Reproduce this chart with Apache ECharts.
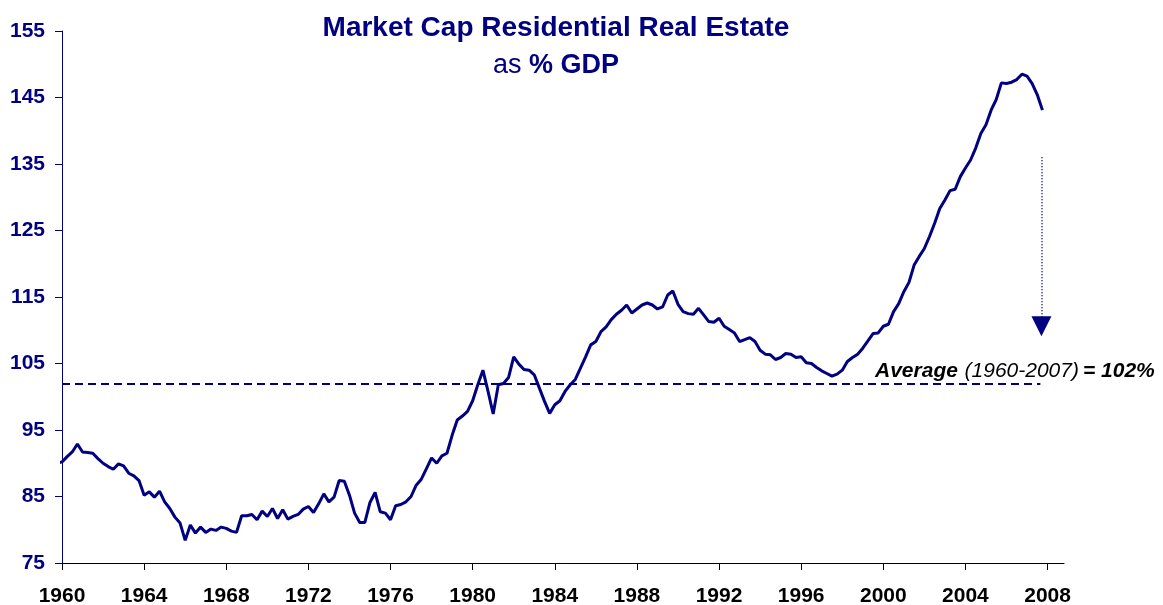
<!DOCTYPE html>
<html>
<head>
<meta charset="utf-8">
<script src="https://cdn.jsdelivr.net/npm/echarts@6/dist/echarts.min.js"></script>
<style>
  html, body { margin: 0; padding: 0; background: #fff; }
  #chart { width: 1163px; height: 605px; }
</style>
</head>
<body>
<div id="chart"></div>
<script>
// quarterly series, first point is 1959 Q4
const firstQuarter = 1959.75;
const capToGdp = [
  90.0,
  90.2, 91.0, 91.7, 92.9,   91.7, 91.6, 91.5, 90.7,   90.0, 89.5, 89.1, 89.9,   89.6, 88.5, 88.1, 87.4,
  85.2, 85.7, 84.9, 85.8,   84.2, 83.2, 81.9, 81.0,   78.4, 80.7, 79.5, 80.4,   79.6, 80.1, 79.9, 80.4,
  80.2, 79.8, 79.6, 82.1,   82.1, 82.3, 81.5, 82.8,   82.0, 83.2, 81.7, 83.0,   81.6, 82.0, 82.3, 83.1,
  83.5, 82.6, 83.9, 85.4,   84.2, 84.9, 87.4, 87.3,   85.2, 82.5, 81.1, 81.1,   84.1, 85.6, 82.7, 82.5,
  81.5, 83.6, 83.8, 84.2,   85.0, 86.7, 87.6, 89.2,   90.8, 90.0, 91.1, 91.5,   94.2, 96.5, 97.1, 97.8,
  99.4, 101.8, 104.0, 100.8, 97.4, 101.8, 102.0, 102.9, 106.0, 104.9, 104.1, 104.0, 103.3, 101.3, 99.3, 97.5,
  98.8, 99.4, 100.8, 101.8, 102.6, 104.3, 106.0, 107.8, 108.3, 109.8, 110.5, 111.6, 112.4, 113.0, 113.8, 112.6,
  113.2, 113.8, 114.1, 113.8, 113.2, 113.5, 115.3, 115.9, 113.9, 112.8, 112.5, 112.4, 113.3, 112.3, 111.3, 111.2,
  111.8, 110.6, 110.1, 109.6, 108.3, 108.6, 108.9, 108.3, 107.0, 106.4, 106.3, 105.6, 105.9, 106.5, 106.4, 105.9,
  106.0, 105.1, 105.0, 104.4, 103.9, 103.5, 103.1, 103.4, 104.0, 105.3, 105.9, 106.4, 107.3, 108.4, 109.5, 109.6,
  110.6, 110.9, 112.8, 114.0, 115.8, 117.2, 119.8, 121.1, 122.3, 124.1, 126.1, 128.3, 129.6, 131.0, 131.2, 133.1,
  134.4, 135.6, 137.4, 139.6, 140.9, 143.1, 144.7, 147.2, 147.1, 147.3, 147.7, 148.5, 148.2, 147.1, 145.4, 143.1
];
const yearTicks = [1960, 1964, 1968, 1972, 1976, 1980, 1984, 1988, 1992, 1996, 2000, 2004, 2008];
const averageValue = 102;
const averageSpan = [1960, 2007.65];
const arrowX = 2007.7;
const arrowFromTo = [136, 110.6];

const navy = '#000080';
const font = '"Liberation Sans", Arial, sans-serif';

const lineData = capToGdp.map((v, i) => [firstQuarter + i / 4, v]);

const chart = echarts.init(document.getElementById('chart'), null, { renderer: 'canvas' });

chart.setOption({
  animation: false,
  backgroundColor: '#fff',
  title: {
    text: '{a|Market Cap Residential Real Estate}\n{b|as }{c|% GDP}',
    left: 556,
    top: 9,
    padding: 0,
    textAlign: 'center',
    textStyle: {
      rich: {
        a: { fontFamily: font, fontSize: 28, fontWeight: 'bold', color: navy, lineHeight: 38 },
        b: { fontFamily: font, fontSize: 27, fontWeight: 'normal', color: navy, lineHeight: 38 },
        c: { fontFamily: font, fontSize: 27, fontWeight: 'bold', color: navy, lineHeight: 38 }
      }
    }
  },
  grid: { left: 62, right: 99, top: 31, bottom: 42, outerBoundsMode: 'none' },
  xAxis: {
    type: 'value',
    min: 1960,
    max: 2008.8,
    splitLine: { show: false },
    axisLine: { lineStyle: { color: '#000', width: 1 } },
    axisTick: { length: 7, customValues: yearTicks, lineStyle: { color: '#000' } },
    axisLabel: {
      customValues: yearTicks,
      formatter: (v) => String(v),
      margin: 23,
      color: '#000',
      fontFamily: font,
      fontSize: 21,
      fontWeight: 'bold'
    }
  },
  yAxis: {
    type: 'value',
    min: 75,
    max: 155,
    interval: 10,
    splitLine: { show: false },
    axisLine: { show: true, lineStyle: { color: navy, width: 1 } },
    axisTick: { show: true, length: 7, lineStyle: { color: navy } },
    axisLabel: {
      margin: 17,
      color: navy,
      fontFamily: font,
      fontSize: 21,
      fontWeight: 'bold'
    }
  },
  series: [
    {
      type: 'line',
      data: lineData,
      showSymbol: false,
      clip: false,
      lineStyle: { color: navy, width: 3 },
      markLine: {
        silent: true,
        animation: false,
        label: { show: false },
        data: [
          [
            { coord: [averageSpan[0], averageValue], symbol: 'none', lineStyle: { color: navy, width: 2, type: [8, 5] } },
            { coord: [averageSpan[1], averageValue], symbol: 'none' }
          ],
          [
            { coord: [arrowX, arrowFromTo[0]], symbol: 'none', lineStyle: { color: navy, width: 1.5, type: [1, 2] } },
            { coord: [arrowX, arrowFromTo[1]], symbol: 'triangle', symbolSize: [20, 20] }
          ]
        ]
      }
    }
  ],
  graphic: [
    {
      type: 'text',
      x: 875,
      y: 371,
      style: {
        text: '{b|Average}  {n|(1960-2007)}{e|= 102%}',
        verticalAlign: 'middle',
        rich: {
          b: { fontFamily: font, fontSize: 21, fontWeight: 'bold', fontStyle: 'italic', fill: '#000' },
          n: { fontFamily: font, fontSize: 21, fontStyle: 'italic', fill: '#000' },
          e: { fontFamily: font, fontSize: 21, fontWeight: 'bold', fontStyle: 'italic', fill: '#000', padding: [0, 0, 0, 4] }
        }
      }
    }
  ]
});
</script>
</body>
</html>
